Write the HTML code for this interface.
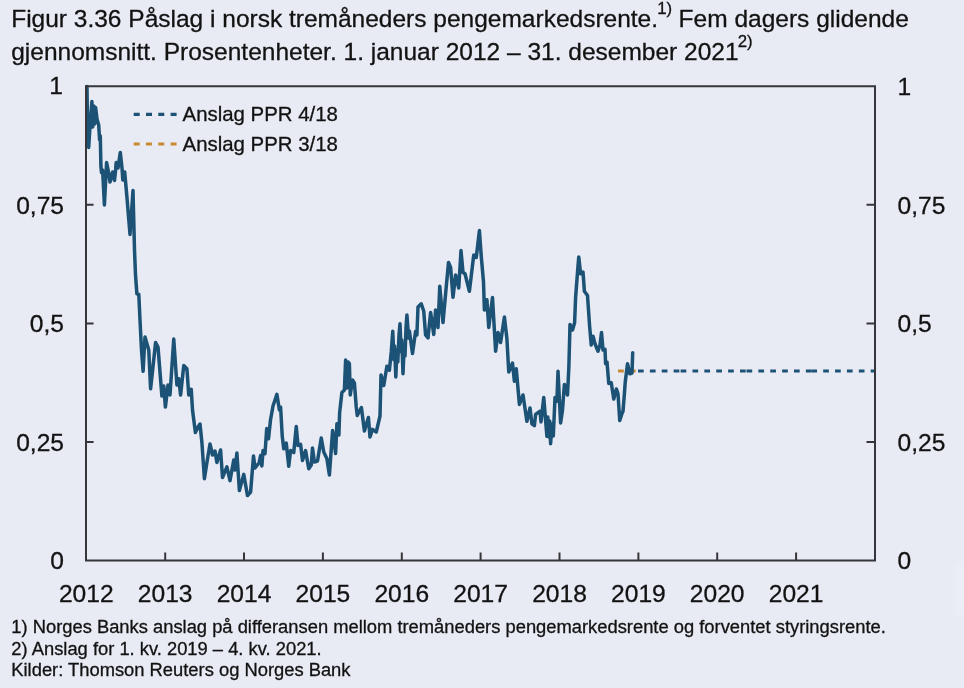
<!DOCTYPE html>
<html><head><meta charset="utf-8">
<style>
html,body{margin:0;padding:0;}
body{width:964px;height:688px;background:#e8ebf4;overflow:hidden;position:relative;font-family:"Liberation Sans",sans-serif;color:#121212;-webkit-text-stroke:0.3px #121212;}
#title{position:absolute;left:11.2px;top:2.1px;font-size:24.5px;line-height:33.2px;white-space:nowrap;}
#title sup{font-size:16.8px;line-height:0;vertical-align:baseline;position:relative;top:-13px;margin-left:-0.8px;margin-right:-0.4px;}
#notes{position:absolute;left:11.3px;top:616.3px;font-size:18.35px;line-height:21.4px;white-space:nowrap;}
svg{position:absolute;left:0;top:0;}
#title,#notes,svg{filter:blur(0.45px);}
#glow{position:absolute;left:952px;top:560px;width:16px;height:58px;border-radius:8px;background:rgba(255,255,255,0.15);filter:blur(3px);}
svg text{font-family:"Liberation Sans",sans-serif;fill:#121212;stroke:#121212;stroke-width:0.3px;}
</style></head><body>
<div id="glow"></div>
<div id="title"><span id="t1">Figur 3.36 Påslag i norsk tremåneders pengemarkedsrente.</span><sup id="s1">1)</sup> <span id="t1b">Fem dagers glidende</span><br><span id="t2">gjennomsnitt. Prosentenheter. 1. januar 2012 – 31. desember 2021</span><sup id="s2">2)</sup></div>
<svg width="964" height="688" viewBox="0 0 964 688">
<g font-size="24.6">
<text x="63" y="93.5" text-anchor="end">1</text>
<text x="897.5" y="95.0">1</text>
<text x="64" y="213.6" text-anchor="end">0,75</text>
<text x="897.5" y="213.6">0,75</text>
<text x="64" y="332.2" text-anchor="end">0,5</text>
<text x="897.5" y="332.2">0,5</text>
<text x="64" y="450.8" text-anchor="end">0,25</text>
<text x="897.5" y="450.8">0,25</text>
<text x="64" y="569.4" text-anchor="end">0</text>
<text x="897.5" y="569.4">0</text>
</g><g font-size="24.6" text-anchor="middle">
<text x="86.3" y="602.3">2012</text>
<text x="165.2" y="602.3">2013</text>
<text x="244" y="602.3">2014</text>
<text x="322.9" y="602.3">2015</text>
<text x="401.8" y="602.3">2016</text>
<text x="480.6" y="602.3">2017</text>
<text x="559.5" y="602.3">2018</text>
<text x="638.4" y="602.3">2019</text>
<text x="717.2" y="602.3">2020</text>
<text x="796.1" y="602.3">2021</text>
</g>
<path d="M133.7 114.4H177" stroke="#1b5275" stroke-width="3.2" stroke-dasharray="6 6.3" fill="none"/>
<path d="M133.7 144H177" stroke="#c98a30" stroke-width="3.2" stroke-dasharray="6 6.3" fill="none"/>
<g font-size="20.4"><text x="182.6" y="120.8">Anslag PPR 4/18</text><text x="182.6" y="150.5">Anslag PPR 3/18</text></g>
<path d="M618 371H636" stroke="#c98a30" stroke-width="3.2" stroke-dasharray="5.8 6.1" fill="none"/>
<path d="M638 371H680.6" stroke="#1b5275" stroke-width="3.2" stroke-dasharray="5.7 6.175" fill="none"/>
<path d="M680.6 371H746.5" stroke="#1b5275" stroke-width="3.2" stroke-dasharray="5.7 6.175" fill="none"/>
<path d="M746.5 371H811.3" stroke="#1b5275" stroke-width="3.2" stroke-dasharray="5.7 6.175" fill="none"/>
<path d="M811.3 371H874" stroke="#1b5275" stroke-width="3.2" stroke-dasharray="5.7 6.175" fill="none"/>
<polyline points="87,86.5 87.3,110 88.7,147.5 90.3,122 91.9,101.5 92.7,127 93.8,106 94.7,124 95.6,107.5 97,119 98.7,125 99.6,140 100.3,136 100.9,166 101.5,172.5 102.6,170 104.4,205 106.6,162.5 108.5,172 110,182 112.7,172 114.5,180.5 115.6,170 116.2,162.5 118,168 120.3,152.5 122,168 122.8,180 124.7,172 127,198 130,234.4 133,190.6 134.5,250 135.5,275 136.9,293.75 138.8,294.4 140,320 141.5,350 143.1,371.25 145,337 148.75,350 150.6,388.75 155.6,342.5 158,347 161.9,396 163.75,386 165.4,407 168,385 170,395 173.75,339 176.9,385 178.75,378.75 180.6,395 183.75,365.6 186.9,368.75 188.75,395 191.25,389.4 192.5,410 195.4,432.5 197.5,428 200,424 201.9,442.5 204.4,478.75 207,462 210,444 212.5,455 215,451 216.9,462.5 220.6,450 222.5,477.5 226.9,466.9 230,480.6 233.75,460 235,470 236.9,453 239.4,490.6 243.75,474.4 247.5,495.6 250.6,492 253.5,456 255,468 259,463 260.6,455.5 261.9,466 263,450.6 265,453.75 266.7,428.5 268.5,438.75 270.5,420 273,406 276.9,394.4 279.4,410 280.6,407 282.25,436.25 283.75,448.75 286.25,443 288.75,466.25 290.6,450.5 293.75,452.5 296.25,426.5 298,445.5 300.6,444.4 302.5,460.5 305.6,450.6 308.75,468.75 311.25,465 312.5,448 314.4,462 317.5,461 321.25,438 323.75,452 326.9,458.75 329.4,475 332.6,430.6 335.6,453.4 336.9,423.75 338.9,435 339.6,413 341.9,392.5 344.4,390 345.6,360 346.9,388 348.2,362 349.4,363.75 350.25,395 352.5,380 354.4,383 356.25,407 357.25,415.5 361.4,407.5 364.4,431 368.4,417.5 370,437 372.5,429.4 376.25,432 380,416 381,375 383.75,385.5 386.9,366.25 389.4,370.3 391.25,352 392.75,331.25 394,360 394.6,346 395.8,377 397,350 397.8,362 399,335 400,323.75 401.2,352 401.8,340 403,373.75 404.3,345 405,356 406,328 406.9,315 408.6,338 409.4,331 412.5,353.4 415.6,331.25 416.9,335 418,307 421.25,303.75 423.75,311.25 425.6,335 428,338 430.6,312.5 433.75,334.4 435.6,310 438,327.5 439.75,286.25 443,322.5 445.3,297 448.5,262.5 450.6,267.5 453,297.3 455.6,275 458.75,288 461,250.6 463,272.5 465,273.75 469.4,291.25 473.75,255 476.25,257.5 479.4,230.6 481.25,256.25 483.5,282 484.4,310 486.9,299.7 488.75,327.5 492.5,297.5 495.6,351.25 498,332.5 500.6,342.5 504.4,317 506.9,338.75 508.75,372 512.5,363 514.4,381.25 516.25,368.75 519.4,404.4 523,395 526.9,421.25 530,408 531.9,423.75 534.4,425.6 535.6,414.4 540,411.25 541,421.9 543.75,397.5 546.9,436.25 547.8,417 548.8,437 549.7,421 550.6,443.75 552,424 553.3,436 555,397.5 556.9,401.25 558,371.25 560.6,423 562.5,410 564.4,384.4 567.5,395 568.9,366 570,324.4 572.5,330 574.6,322.7 575.6,297.5 577.5,272.5 578.75,256.9 580.6,273.75 583,272 584.4,291.25 587.5,295.6 589.6,326 591.25,345 593,336.25 595,343.75 598,351.25 600,345 601.5,332.5 603,350 605,349.4 605.6,363.75 607,362 608.75,383.4 611.25,382.7 613.75,399 616.4,389 618,393.75 619.75,420.6 621.9,413.75 623,411.25 624.4,393.75 625.2,382.5 627.5,363.75 629.8,373.75 632,373 632.7,352.7" stroke="#1b5275" stroke-width="3.5" stroke-linejoin="round" stroke-linecap="round" fill="none"/>
<path d="M86 85.2V561.6 M875 85.2V561.6 M85 86.2H876 M85 560.6H876 M86 204.8H93.6 M875 204.8H866.5 M86 323.4H93.6 M875 323.4H866.5 M86 442H93.6 M875 442H866.5 M86 86.2H93.6 M875 86.2H866.5 M165.2 560.6V552.5 M244 560.6V552.5 M322.9 560.6V552.5 M401.8 560.6V552.5 M480.6 560.6V552.5 M559.5 560.6V552.5 M638.4 560.6V552.5 M717.2 560.6V552.5 M796.1 560.6V552.5" stroke="#36363a" stroke-width="2" fill="none"/>
</svg>
<div id="notes">1) Norges Banks anslag på differansen mellom tremåneders pengemarkedsrente og forventet styringsrente.<br>2) Anslag for 1. kv. 2019 – 4. kv. 2021.<br>Kilder: Thomson Reuters og Norges Bank</div>
</body></html>
